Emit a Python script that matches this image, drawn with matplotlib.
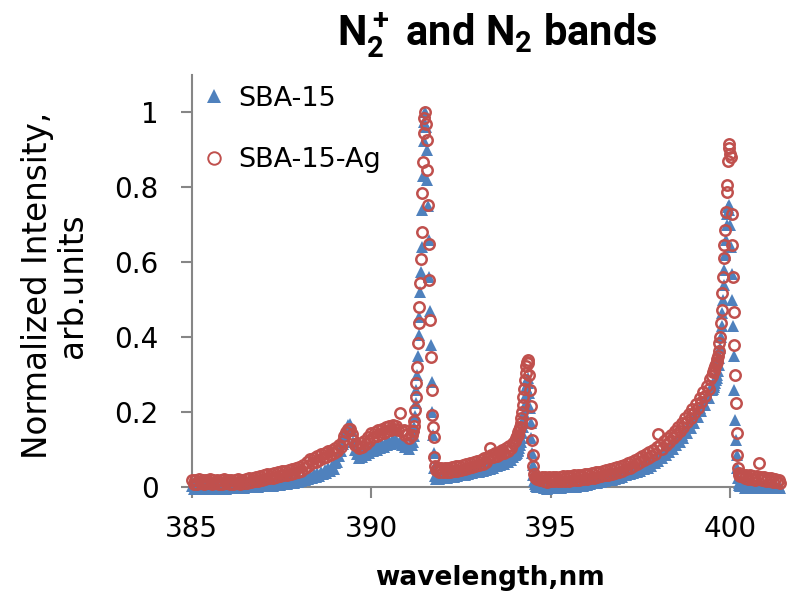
import matplotlib
matplotlib.use("Agg")
import matplotlib.pyplot as plt
from matplotlib.lines import Line2D

# Emission spectrum around the N2+ (391.4 nm) and N2 (394.3, 399.8 nm) bands
wavelength = [
    385.00, 385.05, 385.10, 385.15, 385.20, 385.25, 385.30, 385.35, 385.40, 385.45,
    385.50, 385.55, 385.60, 385.65, 385.70, 385.75, 385.80, 385.85, 385.90, 385.95,
    386.00, 386.05, 386.10, 386.15, 386.20, 386.25, 386.30, 386.35, 386.40, 386.45,
    386.50, 386.55, 386.60, 386.65, 386.70, 386.75, 386.80, 386.85, 386.90, 386.95,
    387.00, 387.05, 387.10, 387.15, 387.20, 387.25, 387.30, 387.35, 387.40, 387.45,
    387.50, 387.55, 387.60, 387.65, 387.70, 387.75, 387.80, 387.85, 387.90, 387.95,
    388.00, 388.05, 388.10, 388.15, 388.20, 388.25, 388.30, 388.35, 388.40, 388.45,
    388.50, 388.55, 388.60, 388.65, 388.70, 388.75, 388.80, 388.85, 388.90, 388.95,
    389.00, 389.05, 389.10, 389.15, 389.20,
    389.25, 389.30, 389.35, 389.40, 389.45, 389.50, 389.55,
    389.60, 389.65, 389.70, 389.75, 389.80, 389.85, 389.90, 389.95, 390.00, 390.05,
    390.10, 390.15, 390.20, 390.25, 390.30, 390.35, 390.40, 390.45, 390.50, 390.55,
    390.60, 390.65, 390.70, 390.75, 390.80, 390.85, 390.90, 390.95, 391.00, 391.05,
    391.10,
    391.14, 391.16, 391.18, 391.20, 391.22, 391.24, 391.26, 391.28, 391.30,
    391.32, 391.34, 391.36, 391.38, 391.40, 391.42, 391.44, 391.46, 391.48,
    391.50, 391.52, 391.54, 391.56, 391.58, 391.60, 391.62, 391.64, 391.66,
    391.68, 391.70, 391.72, 391.74, 391.76, 391.78, 391.80,
    391.85, 391.90, 391.95, 392.00, 392.05, 392.10, 392.15, 392.20, 392.25, 392.30,
    392.35, 392.40, 392.45, 392.50, 392.55, 392.60, 392.65, 392.70, 392.75, 392.80,
    392.85, 392.90, 392.95, 393.00, 393.05, 393.10, 393.15, 393.20, 393.25, 393.30,
    393.35, 393.40, 393.45, 393.50, 393.55, 393.60, 393.65, 393.70, 393.75, 393.80,
    393.85, 393.90, 393.95, 394.00,
    394.04, 394.06, 394.08, 394.10, 394.12, 394.14, 394.16, 394.18, 394.20,
    394.22, 394.24, 394.26, 394.28, 394.30, 394.32, 394.34, 394.36, 394.38,
    394.40, 394.42, 394.44, 394.46, 394.48, 394.50, 394.52, 394.54, 394.56,
    394.58, 394.60, 394.62, 394.64, 394.66, 394.68, 394.70,
    394.75, 394.80, 394.85, 394.90, 394.95, 395.00, 395.05, 395.10, 395.15, 395.20,
    395.25, 395.30, 395.35, 395.40, 395.45, 395.50, 395.55, 395.60, 395.65, 395.70,
    395.75, 395.80, 395.85, 395.90, 395.95, 396.00, 396.05, 396.10, 396.15, 396.20,
    396.25, 396.30, 396.35, 396.40, 396.45, 396.50, 396.55, 396.60, 396.65, 396.70,
    396.75, 396.80, 396.85, 396.90, 396.95, 397.00, 397.05, 397.10, 397.15, 397.20,
    397.25, 397.30, 397.35, 397.40, 397.45, 397.50, 397.55, 397.60, 397.65, 397.70,
    397.75, 397.80, 397.85, 397.90, 397.95, 398.00, 398.05, 398.10, 398.15, 398.20,
    398.25, 398.30, 398.35, 398.40, 398.45, 398.50, 398.55, 398.60, 398.65, 398.70,
    398.75, 398.80, 398.85, 398.90, 398.95, 399.00, 399.05, 399.10, 399.15, 399.20,
    399.25, 399.30, 399.35, 399.40, 399.45, 399.50,
    399.52, 399.54, 399.56, 399.58, 399.60, 399.62, 399.64, 399.66, 399.68,
    399.70, 399.72, 399.74, 399.76, 399.78, 399.80, 399.82, 399.84, 399.86,
    399.88, 399.90, 399.92, 399.94, 399.96, 399.98, 400.00, 400.02, 400.04,
    400.06, 400.08, 400.10, 400.12, 400.14, 400.16, 400.18, 400.20, 400.22,
    400.24, 400.26, 400.28, 400.30,
    400.35, 400.40, 400.45, 400.50, 400.55, 400.60, 400.65, 400.70, 400.75, 400.80,
    400.85, 400.90, 400.95, 401.00, 401.05, 401.10, 401.15, 401.20, 401.25, 401.30,
    401.35, 401.40,
]

sba15 = [
    0.004, -0.004, 0.003, -0.003, 0.005, -0.004, 0.003, -0.005, 0.004, -0.002,
    0.003, -0.004, 0.005, -0.003, 0.004, -0.004, 0.003, -0.003, 0.004, -0.005,
    0.004, -0.003, 0.005, -0.002, 0.004, -0.003, 0.005, -0.002, 0.004, -0.002,
    0.005, -0.001, 0.006, 0.000, 0.007, 0.000, 0.008, 0.001, 0.009, 0.002,
    0.009, 0.002, 0.010, 0.003, 0.011, 0.004, 0.012, 0.005, 0.013, 0.006,
    0.015, 0.007, 0.016, 0.009, 0.018, 0.010, 0.019, 0.012, 0.021, 0.013,
    0.022, 0.015, 0.025, 0.018, 0.028, 0.021, 0.031, 0.024, 0.034, 0.027,
    0.037, 0.030, 0.041, 0.034, 0.045, 0.038, 0.050, 0.043, 0.055, 0.049,
    0.064, 0.068, 0.084, 0.096, 0.115,
    0.135, 0.152, 0.165, 0.168, 0.150, 0.120, 0.098,
    0.088, 0.078, 0.087, 0.081, 0.093, 0.085, 0.100, 0.091, 0.104, 0.095,
    0.109, 0.099, 0.112, 0.103, 0.116, 0.107, 0.120, 0.111, 0.124, 0.116,
    0.129, 0.122, 0.126, 0.118, 0.120, 0.112, 0.113, 0.106, 0.110, 0.101,
    0.112,
    0.112, 0.120, 0.135, 0.160, 0.190, 0.225, 0.260, 0.300, 0.350,
    0.405, 0.455, 0.520, 0.575, 0.640, 0.740, 0.830, 0.925, 0.975,
    1.000, 0.960, 0.900, 0.820, 0.750, 0.660, 0.560, 0.470, 0.380,
    0.280, 0.200, 0.140, 0.090, 0.050, 0.030, 0.022,
    0.031, 0.022, 0.031, 0.023, 0.033, 0.025, 0.034, 0.026, 0.036, 0.027,
    0.037, 0.029, 0.039, 0.031, 0.041, 0.032, 0.043, 0.034, 0.045, 0.037,
    0.047, 0.039, 0.049, 0.041, 0.051, 0.043, 0.053, 0.046, 0.056, 0.049,
    0.059, 0.052, 0.062, 0.055, 0.065, 0.058, 0.069, 0.062, 0.073, 0.066,
    0.077, 0.072, 0.081, 0.085,
    0.088, 0.092, 0.096, 0.100, 0.105, 0.112, 0.120, 0.132, 0.145,
    0.160, 0.178, 0.198, 0.220, 0.245, 0.268, 0.285, 0.290, 0.278,
    0.250, 0.212, 0.170, 0.130, 0.090, 0.058, 0.032, 0.015, 0.008,
    0.004, 0.002, 0.001, 0.000, 0.002, -0.001, 0.001,
    0.005, -0.003, 0.004, -0.004, 0.006, -0.003, 0.005, -0.003, 0.007, -0.002,
    0.006, -0.002, 0.007, -0.001, 0.008, -0.001, 0.009, 0.000, 0.010, 0.001,
    0.011, 0.003, 0.012, 0.004, 0.014, 0.006, 0.016, 0.008, 0.018, 0.010,
    0.020, 0.012, 0.022, 0.014, 0.024, 0.016, 0.026, 0.018, 0.028, 0.020,
    0.030, 0.022, 0.033, 0.025, 0.036, 0.028, 0.039, 0.031, 0.042, 0.034,
    0.045, 0.037, 0.048, 0.040, 0.052, 0.043, 0.056, 0.047, 0.060, 0.052,
    0.065, 0.057, 0.071, 0.063, 0.078, 0.070, 0.085, 0.077, 0.093, 0.085,
    0.101, 0.093, 0.110, 0.102, 0.119, 0.111, 0.129, 0.121, 0.140, 0.132,
    0.152, 0.144, 0.165, 0.157, 0.179, 0.171, 0.194, 0.186, 0.210, 0.202,
    0.227, 0.219, 0.245, 0.237, 0.262, 0.258,
    0.263, 0.268, 0.273, 0.279, 0.285, 0.292, 0.300, 0.310, 0.325,
    0.345, 0.370, 0.400, 0.430, 0.465, 0.500, 0.540, 0.580, 0.620,
    0.660, 0.700, 0.730, 0.748, 0.752, 0.740, 0.700, 0.640, 0.570,
    0.500, 0.430, 0.350, 0.260, 0.180, 0.126, 0.085, 0.050, 0.025,
    0.012, 0.006, 0.004, 0.003,
    0.006, -0.002, 0.005, -0.003, 0.006, -0.002, 0.005, -0.003, 0.004, -0.002,
    0.005, -0.003, 0.004, -0.002, 0.005, -0.003, 0.004, -0.003, 0.003, -0.002,
    0.003, -0.002,
]

sba15_ag = [
    0.020, 0.009, 0.019, 0.008, 0.021, 0.010, 0.018, 0.008, 0.020, 0.011,
    0.021, 0.009, 0.019, 0.010, 0.020, 0.008, 0.019, 0.009, 0.021, 0.010,
    0.018, 0.008, 0.020, 0.009, 0.019, 0.010, 0.021, 0.008, 0.020, 0.010,
    0.021, 0.011, 0.023, 0.013, 0.025, 0.015, 0.027, 0.017, 0.029, 0.019,
    0.032, 0.021, 0.034, 0.023, 0.036, 0.025, 0.038, 0.027, 0.040, 0.030,
    0.042, 0.031, 0.044, 0.033, 0.046, 0.035, 0.048, 0.037, 0.050, 0.040,
    0.054, 0.043, 0.060, 0.050, 0.067, 0.057, 0.075, 0.064, 0.078, 0.068,
    0.084, 0.073, 0.088, 0.077, 0.092, 0.081, 0.096, 0.085, 0.100, 0.090,
    0.105, 0.096, 0.112, 0.108, 0.122,
    0.135, 0.148, 0.156, 0.155, 0.142, 0.125, 0.112,
    0.112, 0.104, 0.117, 0.108, 0.124, 0.114, 0.134, 0.124, 0.143, 0.133,
    0.147, 0.137, 0.151, 0.141, 0.156, 0.145, 0.160, 0.149, 0.163, 0.152,
    0.165, 0.154, 0.163, 0.152, 0.198, 0.150, 0.152, 0.140, 0.142, 0.131,
    0.140,
    0.140, 0.150, 0.162, 0.175, 0.205, 0.240, 0.277, 0.320, 0.385,
    0.437, 0.480, 0.545, 0.610, 0.680, 0.785, 0.868, 0.945, 0.985,
    1.000, 0.970, 0.926, 0.846, 0.753, 0.650, 0.553, 0.446, 0.347,
    0.260, 0.192, 0.160, 0.134, 0.080, 0.055, 0.045,
    0.050, 0.040, 0.051, 0.039, 0.050, 0.040, 0.052, 0.041, 0.054, 0.043,
    0.055, 0.044, 0.057, 0.046, 0.058, 0.048, 0.061, 0.050, 0.064, 0.053,
    0.067, 0.056, 0.070, 0.060, 0.073, 0.062, 0.077, 0.066, 0.081, 0.105,
    0.086, 0.079, 0.090, 0.083, 0.094, 0.087, 0.098, 0.091, 0.103, 0.097,
    0.109, 0.104, 0.117, 0.124,
    0.130, 0.135, 0.140, 0.146, 0.152, 0.160, 0.170, 0.185, 0.200,
    0.218, 0.240, 0.262, 0.285, 0.305, 0.322, 0.335, 0.339, 0.330,
    0.300, 0.260, 0.215, 0.170, 0.125, 0.085, 0.055, 0.035, 0.028,
    0.025, 0.024, 0.022, 0.023, 0.021, 0.022, 0.020,
    0.026, 0.015, 0.027, 0.014, 0.026, 0.015, 0.027, 0.016, 0.028, 0.015,
    0.028, 0.016, 0.029, 0.017, 0.029, 0.017, 0.030, 0.018, 0.031, 0.019,
    0.032, 0.020, 0.033, 0.021, 0.034, 0.022, 0.035, 0.024, 0.037, 0.025,
    0.039, 0.027, 0.041, 0.029, 0.043, 0.031, 0.045, 0.033, 0.047, 0.035,
    0.050, 0.038, 0.053, 0.041, 0.056, 0.044, 0.060, 0.048, 0.064, 0.052,
    0.068, 0.057, 0.073, 0.062, 0.078, 0.067, 0.083, 0.072, 0.088, 0.077,
    0.094, 0.083, 0.100, 0.089, 0.106, 0.142, 0.113, 0.102, 0.122, 0.113,
    0.131, 0.121, 0.140, 0.130, 0.150, 0.140, 0.160, 0.150, 0.171, 0.161,
    0.183, 0.173, 0.195, 0.185, 0.208, 0.198, 0.222, 0.212, 0.237, 0.227,
    0.253, 0.243, 0.270, 0.262, 0.288, 0.296,
    0.306, 0.311, 0.316, 0.322, 0.328, 0.335, 0.342, 0.350, 0.362,
    0.384, 0.400, 0.438, 0.473, 0.518, 0.560, 0.611, 0.646, 0.686,
    0.735, 0.788, 0.806, 0.870, 0.905, 0.915, 0.890, 0.880, 0.730,
    0.645, 0.560, 0.468, 0.380, 0.300, 0.224, 0.144, 0.085, 0.050,
    0.038, 0.032, 0.030, 0.029,
    0.033, 0.024, 0.032, 0.022, 0.031, 0.021, 0.030, 0.020, 0.029, 0.064,
    0.027, 0.018, 0.026, 0.017, 0.024, 0.015, 0.023, 0.014, 0.021, 0.013,
    0.020, 0.012,
]

x_ticks = [385, 390, 395, 400]
y_ticks = [0, 0.2, 0.4, 0.6, 0.8, 1]
y_tick_labels = ["0", "0.2", "0.4", "0.6", "0.8", "1"]

blue = "#4F81BD"
red = "#C0504D"
axis_gray = "#868686"

plt.rcParams["font.family"] = ["DejaVu Sans"]
plt.rcParams["mathtext.fontset"] = "custom"
plt.rcParams["mathtext.rm"] = "Roboto:bold"
plt.rcParams["mathtext.default"] = "rm"

fig = plt.figure(figsize=(7.96, 5.98), dpi=100)
ax = fig.add_axes([0.241, 0.1856, 0.743, 0.689])

ax.plot(wavelength, sba15, linestyle="none", marker="^", markersize=8,
        color=blue, markeredgewidth=0, clip_on=False, zorder=3)
ax.plot(wavelength, sba15_ag, linestyle="none", marker="o", markersize=7.5,
        markerfacecolor="none", markeredgecolor=red, markeredgewidth=1.8,
        clip_on=False, zorder=4)

ax.set_xlim(385, 401.48)
ax.set_ylim(0, 1.1)
ax.set_xticks(x_ticks)
ax.set_yticks(y_ticks)
ax.set_yticklabels(y_tick_labels)

for side in ["top", "right"]:
    ax.spines[side].set_visible(False)
for side in ["left", "bottom"]:
    ax.spines[side].set_color(axis_gray)
    ax.spines[side].set_linewidth(1.5)
ax.tick_params(axis="both", direction="out", length=8, width=1.5,
               color=axis_gray, labelsize=20, labelcolor="black")
ax.tick_params(axis="x", pad=12)
ax.tick_params(axis="y", pad=16)

# axis titles and chart title placed in figure coordinates
fig.text(0.616, 0.033, "wavelength,nm", ha="center", va="center",
         fontsize=19, fontweight="bold")
fig.text(0.069, 0.523, "Normalized Intensity,\narb.units", ha="center",
         va="center", rotation=90, multialignment="center", fontsize=23.5,
         linespacing=1.05)
fig.text(0.625, 0.94, "N$_2^+$ and N$_2$ bands", ha="center", va="center",
         fontsize=30, fontweight="bold", family=["Roboto", "DejaVu Sans"])

handles = [
    Line2D([], [], linestyle="none", marker="^", markersize=10,
           color=blue, markeredgewidth=0),
    Line2D([], [], linestyle="none", marker="o", markersize=9,
           markerfacecolor="none", markeredgecolor=red, markeredgewidth=1.4),
]
ax.legend(handles, ["SBA-15", "SBA-15-Ag"], loc="upper left",
          bbox_to_anchor=(0.0, 1.0), frameon=False, fontsize=19.5,
          handlelength=0.8, handletextpad=0.5, labelspacing=1.3,
          borderaxespad=0.0)

fig.savefig("out.png", dpi=100)
